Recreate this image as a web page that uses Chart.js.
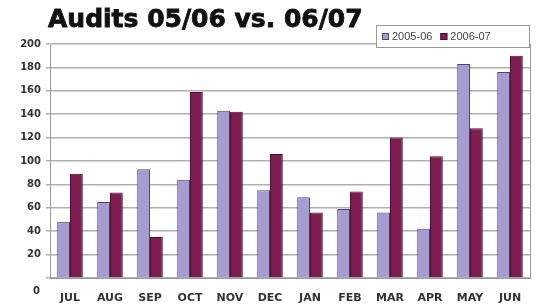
<!DOCTYPE html>
<html>
<head>
<meta charset="utf-8">
<title>Audits 05/06 vs. 06/07</title>
<script src="https://cdn.jsdelivr.net/npm/chart.js@4.4.1/dist/chart.umd.min.js"></script>
<style>
  html, body { margin: 0; padding: 0; background: #fff; }
  #wrap { width: 541px; height: 304px; }
</style>
</head>
<body>
<div id="wrap"><canvas id="c" width="541" height="304"></canvas></div>
<script>
var title = 'Audits 05/06 vs. 06/07';
var months = ['JUL', 'AUG', 'SEP', 'OCT', 'NOV', 'DEC', 'JAN', 'FEB', 'MAR', 'APR', 'MAY', 'JUN'];
var audits0506 = [48, 65, 93, 84, 143, 75, 69, 59, 56, 42, 183, 176];
var audits0607 = [89, 73, 35, 159, 142, 106, 56, 74, 120, 104, 128, 190];
var seriesNames = ['2005-06', '2006-07'];

// title, the odd low "0" label, the plot frame and the boxed legend
var extras = {
  id: 'extras',
  afterDraw: function (chart) {
    var ctx = chart.ctx;
    var a = chart.chartArea;
    ctx.save();
    ctx.strokeStyle = '#999';
    ctx.lineWidth = 1;
    ctx.beginPath();
    ctx.moveTo(a.right + 0.5, a.top);
    ctx.lineTo(a.right + 0.5, a.bottom);
    ctx.stroke();

    ctx.fillStyle = '#111';
    ctx.strokeStyle = '#111';
    ctx.lineWidth = 0.8;
    ctx.font = 'bold 25px "DejaVu Sans"';
    ctx.textBaseline = 'alphabetic';
    ctx.textAlign = 'left';
    ctx.fillText(title, 48, 27);
    ctx.strokeText(title, 48, 27);

    ctx.lineWidth = 1;
    ctx.fillStyle = '#333';
    ctx.font = 'bold 10px "DejaVu Sans"';
    ctx.textAlign = 'right';
    ctx.textBaseline = 'middle';
    ctx.fillText('0', 40, 291);

    // legend box
    var bx = 376, by = 25, bw = 153, bh = 22;
    ctx.fillStyle = '#fff';
    ctx.fillRect(bx, by, bw, bh);
    ctx.strokeStyle = '#999';
    ctx.strokeRect(bx + 0.5, by + 0.5, bw, bh);
    ctx.font = '11px "Liberation Sans"';
    ctx.textAlign = 'left';
    var x = bx + 6;
    chart.data.datasets.forEach(function (ds) {
      ctx.fillStyle = ds.backgroundColor;
      ctx.fillRect(x, by + 8, 7, 7);
      ctx.strokeStyle = ds.borderColor;
      ctx.strokeRect(x + 0.5, by + 8.5, 6, 6);
      ctx.fillStyle = '#444';
      ctx.fillText(ds.label, x + 10, by + 12);
      x += 10 + ctx.measureText(ds.label).width + 8;
    });
    ctx.restore();
  }
};

new Chart(document.getElementById('c'), {
  type: 'bar',
  data: {
    labels: months,
    datasets: [{
      label: seriesNames[0],
      data: audits0506,
      backgroundColor: '#a59cd2',
      borderColor: '#4e4672',
      borderWidth: 1,
      borderSkipped: 'bottom'
    }, {
      label: seriesNames[1],
      data: audits0607,
      backgroundColor: '#7e1d50',
      borderColor: '#4a0f2e',
      borderWidth: 1,
      borderSkipped: 'bottom'
    }]
  },
  options: {
    responsive: false,
    animation: false,
    layout: { padding: { top: 44, right: 11, left: 0, bottom: 0 } },
    plugins: {
      legend: { display: false },
      title: { display: false },
      tooltip: { enabled: false }
    },
    datasets: {
      bar: { categoryPercentage: 0.64, barPercentage: 1.0 }
    },
    scales: {
      x: {
        grid: { display: false },
        border: { display: true, color: '#999', width: 1 },
        ticks: {
          color: '#333',
          padding: 6,
          maxRotation: 0,
          font: { family: 'DejaVu Sans', weight: 'bold', size: 11 }
        },
        afterFit: function (s) { s.height = 26; }
      },
      y: {
        min: 0,
        max: 200,
        ticks: {
          stepSize: 20,
          color: '#333',
          padding: 5,
          font: { family: 'DejaVu Sans', weight: 'bold', size: 10 },
          callback: function (v) { return v === 0 ? '' : v; }
        },
        grid: { color: '#b0b0b0', lineWidth: 1.5, tickLength: 4, drawTicks: true },
        border: { display: true, color: '#999', width: 1 },
        afterFit: function (s) { s.width = 50; }
      }
    }
  },
  plugins: [extras]
});
</script>
</body>
</html>
